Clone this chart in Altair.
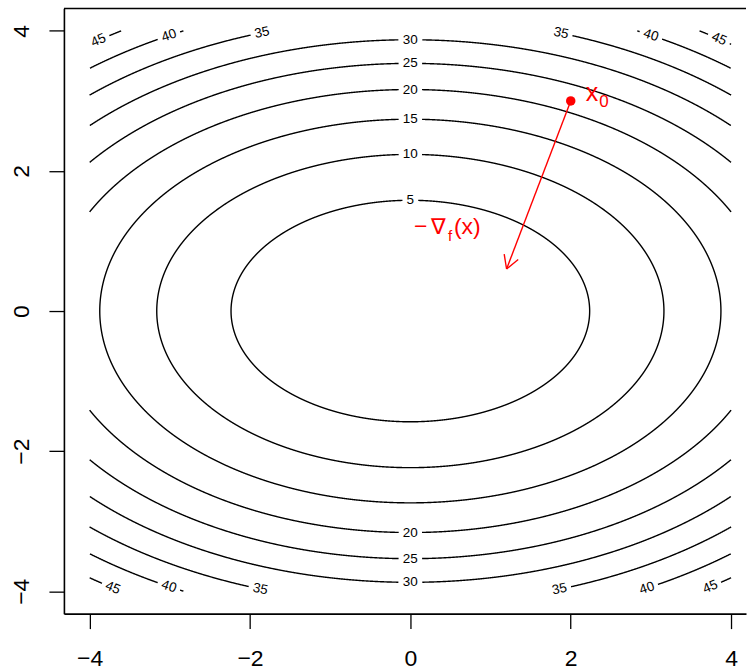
import numpy as np
import pandas as pd
import altair as alt

# ---------------- data ----------------
levels = [5, 10, 15, 20, 25, 30, 35, 40, 45]          # contour levels of f(x,y)=x^2+2y^2
grid_limit = 4                                          # grid spans [-4, 4] in both directions
tick_values = [-4, -2, 0, 2, 4]

lab_level = [5, 10, 15, 20, 25, 30, 20, 25, 30,
             35, 40, 45, 35, 40, 45, 35, 40, 45, 35, 40, 45]
lab_x = [0, 0, 0, 0, 0, 0, 0, 0, 0,
         -1.85, -3.01, -3.89, 1.88, 3.00, 3.85,
         -1.87, -3.01, -3.71, 1.86, 2.95, 3.74]
lab_side = [1, 1, 1, 1, 1, 1, -1, -1, -1,
            1, 1, 1, 1, 1, 1,
            -1, -1, -1, -1, -1, -1]

point_x0 = [2.0]
point_y0 = [3.0]
arrow_end_x = [1.2]
arrow_end_y = [0.6]
grad_label_x = [0.5]
grad_label_y = [1.2]

# ---------------- geometry helpers ----------------
W, H = 683, 606
XDOM = [-4.32, 4.1856]
YDOM = [-4.32, 4.32]
sx = W / (XDOM[1] - XDOM[0])
sy = H / (YDOM[1] - YDOM[0])
FONT = "Liberation Sans, Arial, DejaVu Sans"
LAB_FS = 13.5

# label positions snapped onto their contour, with angle along the curve
labs = []
for L, lx, side in zip(lab_level, lab_x, lab_side):
    ly = side * np.sqrt((L - lx ** 2) / 2.0)
    ang = np.degrees(np.arctan2(2 * lx * sy, 4 * ly * sx))
    if ang > 90:
        ang -= 180
    if ang < -90:
        ang += 180
    if abs(lx) < 1e-9:
        ang = 0.0
    labs.append(dict(lvl=L, x=lx, y=ly, txt=str(L), ang=ang % 360))
lab_df = pd.DataFrame(labs)

rows = []
t = np.linspace(0, 2 * np.pi, 6001)
for L in levels:
    x = np.sqrt(L) * np.cos(t)
    y = np.sqrt(L / 2.0) * np.sin(t)
    keep = (np.abs(x) <= grid_limit) & (np.abs(y) <= grid_limit)
    for lb in labs:
        if lb["lvl"] != L:
            continue
        r = len(lb["txt"]) * 0.56 * LAB_FS / 2 + 4
        d = np.hypot((x - lb["x"]) * sx, (y - lb["y"]) * sy)
        keep &= d > r
    seg, prev = 0, False
    for i in range(len(t)):
        if keep[i]:
            if not prev:
                seg += 1
            rows.append(dict(seg=f"{L}_{seg}", i=i, x=x[i], y=y[i]))
        prev = keep[i]
line_df = pd.DataFrame(rows)

# arrow shaft + open head
ax0, ay0 = point_x0[0], point_y0[0]
ax1, ay1 = arrow_end_x[0], arrow_end_y[0]
ux, uy = (ax0 - ax1) * sx, (ay0 - ay1) * sy
n = np.hypot(ux, uy)
ux, uy = ux / n, uy / n
segs = [dict(x=ax0, y=ay0, x2=ax1, y2=ay1)]
for a in (np.radians(30), -np.radians(30)):
    vx = ux * np.cos(a) - uy * np.sin(a)
    vy = ux * np.sin(a) + uy * np.cos(a)
    segs.append(dict(x=ax1, y=ay1, x2=ax1 + 15 * vx / sx, y2=ay1 + 15 * vy / sy))
arrow_df = pd.DataFrame(segs)

# ---------------- chart ----------------
xscale = alt.Scale(domain=XDOM, nice=False, zero=False)
yscale = alt.Scale(domain=YDOM, nice=False, zero=False)
xaxis = alt.Axis(values=tick_values, title=None, grid=False, tickSize=15, tickWidth=1.3,
                 labelFontSize=23, labelPadding=37, labelBaseline="alphabetic",
                 labelFlush=False, labelOverlap=False, domainWidth=1.6)
yaxis = alt.Axis(values=tick_values, title=None, grid=False, tickSize=15, tickWidth=1.3,
                 labelFontSize=23, labelPadding=20, labelAngle=270, labelAlign="center",
                 labelBaseline="alphabetic", labelFlush=False, labelOverlap=False,
                 minExtent=64, maxExtent=64, domainWidth=1.6)
X = lambda f: alt.X(f, type="quantitative", scale=xscale, axis=xaxis)
Y = lambda f: alt.Y(f, type="quantitative", scale=yscale, axis=yaxis)

lines = alt.Chart(line_df).mark_line(color="black", strokeWidth=1.4).encode(
    x=X("x"), y=Y("y"), detail="seg:N", order="i:Q")

labels = alt.Chart(lab_df).mark_text(font=FONT, fontSize=LAB_FS, color="black",
                                     align="center", baseline="middle").encode(
    x=X("x"), y=Y("y"), text="txt:N", angle=alt.Angle("ang:Q", scale=None))

top_border = alt.Chart(pd.DataFrame({"a": [0]})).mark_rule(color="black", strokeWidth=1.6).encode(
    x=alt.value(0), x2=alt.value(W), y=alt.value(0))

arrow = alt.Chart(arrow_df).mark_rule(color="#FF0000", strokeWidth=1.4).encode(
    x=X("x"), y=Y("y"), x2="x2:Q", y2="y2:Q")

pt_df = pd.DataFrame({"x": point_x0, "y": point_y0})
point = alt.Chart(pt_df).mark_circle(color="#FF0000", size=90, opacity=1).encode(
    x=X("x"), y=Y("y"))

def red_text(df, txt, dx, dy, fs):
    d = df.copy()
    d["txt"] = txt
    return alt.Chart(d).mark_text(font=FONT, fontSize=fs, color="#FF0000", align="left",
                                  baseline="alphabetic", dx=dx, dy=dy).encode(
        x=X("x"), y=Y("y"), text="txt:N")

g_df = pd.DataFrame({"x": grad_label_x, "y": grad_label_y})
texts = [
    red_text(pt_df, "x", 15, 0.5, 25),
    red_text(pt_df, "0", 28.5, 6.5, 17),
    red_text(g_df, "\u2212", -36.5, 7.5, 23),
    red_text(g_df, "\u2207", -19.5, 7.5, 22),
    red_text(g_df, "f", -2.5, 14.2, 15),
    red_text(g_df, "(x)", 3.5, 7.5, 23),
]

chart = alt.layer(lines, labels, top_border, arrow, point, *texts).properties(
    width=W, height=H, padding={"left": 0, "top": 7, "right": 0, "bottom": 0}
).configure_view(stroke=None).configure_axis(
    domainColor="black", tickColor="black", labelColor="black", labelFont=FONT
)

chart.save("out.html", embed_options={"renderer": "svg", "actions": False})
